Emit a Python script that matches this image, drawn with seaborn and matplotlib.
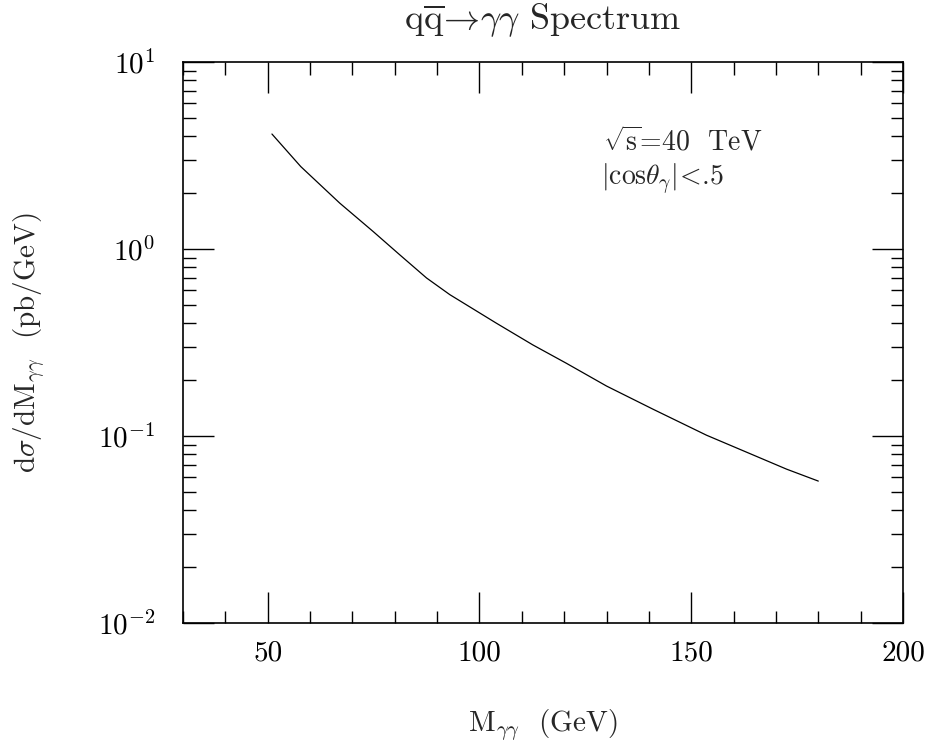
import matplotlib
matplotlib.use("Agg")
import matplotlib.pyplot as plt
import seaborn as sns
import pandas as pd
from matplotlib.ticker import FixedLocator, LogLocator, NullFormatter, FixedFormatter

# Data
mass = [51, 57.8, 67, 74.9, 81.2, 87.5, 93, 104, 112.6, 120.5, 130, 141, 153.6, 165, 172.5, 180]
dsigma = [4.12, 2.76, 1.76, 1.24, 0.93, 0.70, 0.57, 0.401, 0.307, 0.245, 0.185, 0.139, 0.101, 0.0785, 0.0665, 0.0574]
x_ticks = [50, 100, 150, 200]
y_ticks = [0.01, 0.1, 1, 10]
y_tick_labels = [r"$10^{-2}$", r"$10^{-1}$", r"$10^{0}$", r"$10^{1}$"]

sns.set_theme(style="ticks")
plt.rcParams["font.family"] = ["cmr10", "DejaVu Serif"]
plt.rcParams["mathtext.fontset"] = "cm"
plt.rcParams["axes.unicode_minus"] = False

df = pd.DataFrame({"M": mass, "dsig": dsigma})

fig = plt.figure(figsize=(9.28, 7.54), dpi=100)
ax = fig.add_axes([183 / 928, 1 - 623 / 754, (903 - 183) / 928, (623 - 62) / 754])

sns.lineplot(data=df, x="M", y="dsig", ax=ax, color="black", linewidth=0.9)

ax.set_yscale("log")
ax.set_xlim(30, 200)
ax.set_ylim(0.01, 10)

ax.xaxis.set_major_locator(FixedLocator(x_ticks))
ax.xaxis.set_minor_locator(FixedLocator(list(range(30, 201, 10))))
ax.yaxis.set_major_locator(FixedLocator(y_ticks))
ax.yaxis.set_major_formatter(FixedFormatter(y_tick_labels))
ax.yaxis.set_minor_locator(LogLocator(base=10, subs=range(2, 10)))
ax.yaxis.set_minor_formatter(NullFormatter())

ax.tick_params(which="both", direction="in", top=True, right=True, colors="black")
ax.tick_params(which="major", length=22, width=1.0, labelsize=21)
ax.tick_params(which="minor", length=9, width=1.0)
ax.tick_params(axis="x", which="major", pad=12)
ax.tick_params(axis="y", which="major", pad=20)

for s in ax.spines.values():
    s.set_linewidth(1.2)
    s.set_color("black")

ax.set_xlabel(r"M$_{\gamma\gamma}$  (GeV)", fontsize=21, labelpad=30)
ax.set_ylabel(r"d$\sigma$/dM$_{\gamma\gamma}$  (pb/GeV)", fontsize=21, labelpad=36)
ax.set_title(r"$\mathrm{q}\overline{\mathrm{q}}\!\rightarrow\!\gamma\gamma$ Spectrum", fontsize=26, pad=24)

ax.text(0.583, 0.843, r"$\sqrt{\mathrm{s}}$=40  TeV", transform=ax.transAxes, fontsize=20, va="baseline", ha="left")
ax.text(0.580, 0.78, r"$|\mathrm{cos}\theta_{\gamma}|\!<\!$.5", transform=ax.transAxes, fontsize=20, va="baseline", ha="left")

fig.savefig("out.png", dpi=100, facecolor="white")
